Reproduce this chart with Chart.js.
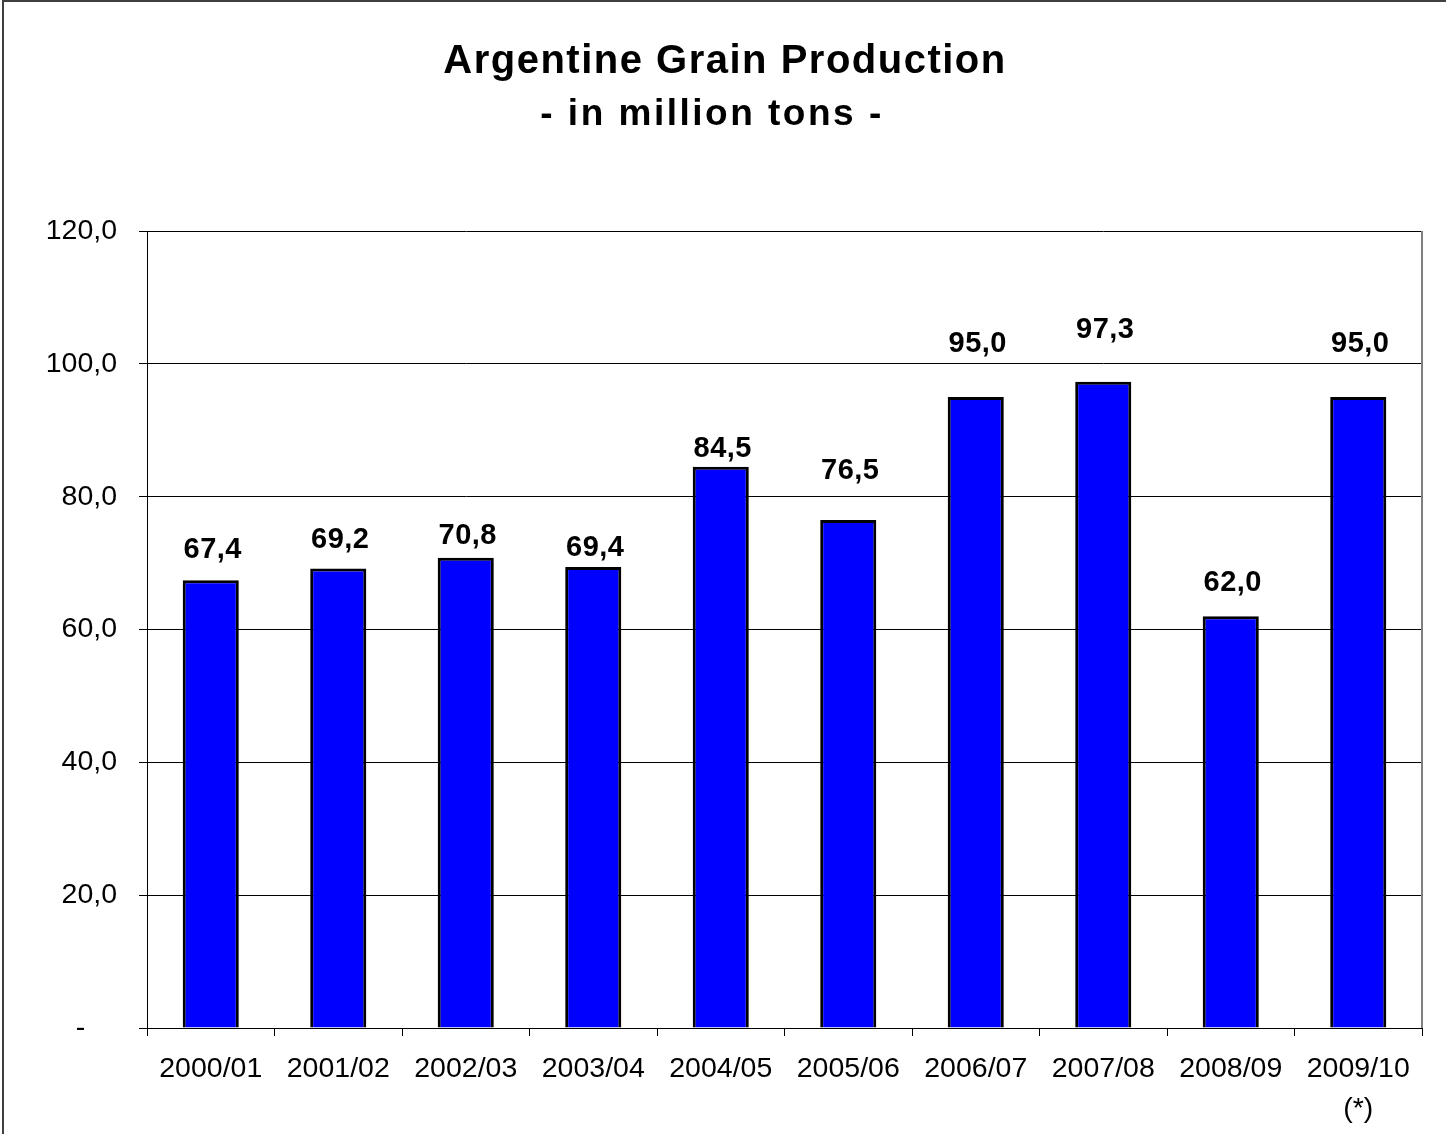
<!DOCTYPE html>
<html>
<head>
<meta charset="utf-8">
<script src="https://cdn.jsdelivr.net/npm/chart.js@4.4.0/dist/chart.umd.min.js"></script>
<style>
  html, body { margin: 0; padding: 0; background: #fff; }
  #wrap { width: 1446px; height: 1134px; position: relative; }
</style>
</head>
<body>
<div id="wrap"><canvas id="chart"></canvas></div>
<script>
const seasons = ['2000/01', '2001/02', '2002/03', '2003/04', '2004/05', '2005/06', '2006/07', '2007/08', '2008/09', ['2009/10', '(*)']];
const production = [67.4, 69.2, 70.8, 69.4, 84.5, 76.5, 95.0, 97.3, 62.0, 95.0];
const yTicks = [0, 20, 40, 60, 80, 100, 120];

const titleText = 'Argentine Grain Production';
const subtitleText = '- in million tons -';

function fmt(v) {
  return v.toFixed(1).replace('.', ',');
}

// frame, titles, plot-area right edge and value labels
const decorations = {
  id: 'decorations',
  afterDraw(chart, args, opts) {
    const {ctx, chartArea} = chart;
    ctx.save();
    // outer frame (top and left only, the picture is cut at the other sides)
    ctx.strokeStyle = '#404040';
    ctx.lineWidth = 2;
    ctx.beginPath();
    ctx.moveTo(3, chart.height);
    ctx.lineTo(3, 1);
    ctx.lineTo(chart.width, 1);
    ctx.stroke();
    // right edge of plot area
    ctx.strokeStyle = '#808080';
    ctx.lineWidth = 2;
    ctx.beginPath();
    ctx.moveTo(chartArea.right, chartArea.top);
    ctx.lineTo(chartArea.right, chartArea.bottom);
    ctx.stroke();
    // titles
    ctx.fillStyle = '#000';
    ctx.textAlign = 'center';
    ctx.textBaseline = 'middle';
    ctx.letterSpacing = '1.5px';
    ctx.font = 'bold 40px "Liberation Sans", Arial, sans-serif';
    ctx.fillText(titleText, 725, 62);
    ctx.letterSpacing = '2.5px';
    ctx.font = 'bold 37px "Liberation Sans", Arial, sans-serif';
    ctx.fillText(subtitleText, 712, 115);
    ctx.letterSpacing = '0.5px';
    // value labels above bars
    ctx.font = 'bold 29px "Liberation Sans", Arial, sans-serif';
    const meta = chart.getDatasetMeta(0);
    meta.data.forEach((bar, i) => {
      const lift = opts.lift[i] || 30;
      ctx.fillText(fmt(production[i]), bar.x + 2, bar.y - lift);
    });
    ctx.restore();
  }
};

new Chart(document.getElementById('chart'), {
  type: 'bar',
  data: {
    labels: seasons,
    datasets: [{
      data: production,
      backgroundColor: '#0000FF',
      borderColor: '#000000',
      borderWidth: 3,
      borderSkipped: 'start',
      categoryPercentage: 1.0,
      barPercentage: 0.44
    }]
  },
  options: {
    responsive: true,
    maintainAspectRatio: false,
    animation: false,
    layout: {
      padding: { top: 231, right: 24, bottom: 0, left: 0 }
    },
    scales: {
      x: {
        grid: {
          display: true,
          offset: true,
          drawOnChartArea: false,
          drawTicks: true,
          tickLength: 8,
          color: '#000'
        },
        border: { display: true, color: '#000', width: 1 },
        ticks: {
          color: '#000',
          padding: 13,
          maxRotation: 0,
          autoSkip: false,
          font: { family: '"Liberation Sans", Arial, sans-serif', size: 28.5, lineHeight: 1.4 }
        },
        afterFit(scale) { scale.height = 106; }
      },
      y: {
        min: 0,
        max: 120,
        afterBuildTicks(scale) {
          scale.ticks = yTicks.map(v => ({ value: v }));
        },
        grid: {
          color: '#000',
          lineWidth: 1,
          drawTicks: true,
          tickLength: 8
        },
        border: { display: true, color: '#000', width: 1 },
        ticks: {
          color: '#000',
          padding: 22,
          font: { family: '"Liberation Sans", Arial, sans-serif', size: 28.5 },
          callback: (v) => v === 0 ? '-    ' : fmt(v)
        },
        afterFit(scale) { scale.width = 147; }
      }
    },
    plugins: {
      legend: { display: false },
      title: { display: false },
      tooltip: { enabled: false },
      decorations: {
        lift: [30, 28, 22, 19, 18, 49, 53, 52, 33, 53]
      }
    }
  },
  plugins: [decorations]
});
</script>
</body>
</html>
